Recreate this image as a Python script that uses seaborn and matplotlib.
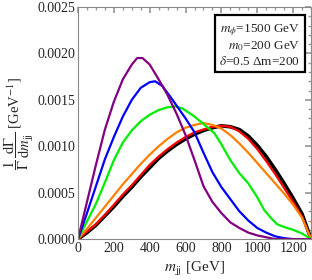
import matplotlib
matplotlib.use("Agg")
import matplotlib.pyplot as plt
import seaborn as sns
import pandas as pd
from matplotlib.ticker import MultipleLocator

# data
purple_m = [0, 50, 100, 150, 200, 250, 300, 330, 360, 400, 450, 500, 550, 600, 650, 700, 750, 800, 850, 900, 950, 1000, 1050, 1100, 1200, 1300]
purple_v = [0, 0.0004, 0.0008, 0.00118, 0.00148, 0.00172, 0.00188, 0.00195, 0.00195, 0.00188, 0.00172, 0.00155, 0.00135, 0.00112, 0.00085, 0.00057, 0.0004, 0.00028, 0.00018, 0.00012, 0.00007, 0.00004, 0.00002, 0.0, 0.0, 0.0]

blue_m = [0, 50, 100, 150, 200, 250, 300, 350, 400, 430, 470, 520, 560, 600, 650, 700, 750, 800, 850, 900, 950, 1000, 1050, 1100, 1150, 1200, 1300]
blue_v = [0, 0.00028, 0.00057, 0.00086, 0.0011, 0.00132, 0.0015, 0.00163, 0.00169, 0.0017, 0.00165, 0.00152, 0.00141, 0.0013, 0.00115, 0.00093, 0.00072, 0.00056, 0.00043, 0.0003, 0.0002, 0.00012, 0.00007, 0.00003, 0.00001, 0.0, 0.0]

green_m = [0, 50, 100, 150, 200, 250, 300, 350, 400, 450, 500, 540, 580, 620, 650, 700, 761, 800, 850, 900, 950, 1000, 1040, 1080, 1111, 1150, 1200, 1250, 1300]
green_v = [0, 0.00019, 0.00038, 0.00061, 0.00085, 0.00104, 0.00117, 0.00127, 0.00134, 0.00139, 0.00142, 0.00143, 0.00141, 0.00136, 0.00132, 0.00124, 0.00114, 0.00102, 0.00085, 0.00071, 0.0006, 0.00045, 0.00031, 0.00022, 0.00016, 0.00013, 0.0001, 0.00006, 0.0]

orange_m = [0, 50, 100, 150, 200, 250, 300, 350, 400, 450, 500, 550, 600, 650, 700, 750, 800, 850, 900, 950, 1000, 1050, 1100, 1150, 1200, 1250, 1300]
orange_v = [0, 0.00011, 0.00023, 0.00035, 0.00047, 0.00059, 0.0007, 0.00081, 0.00091, 0.001, 0.00108, 0.00115, 0.0012, 0.00123, 0.00125, 0.00123, 0.00119, 0.00112, 0.00103, 0.00093, 0.00082, 0.00071, 0.0006, 0.00049, 0.00037, 0.00023, 0.0]

red_m = [0, 50, 100, 150, 200, 250, 300, 350, 400, 450, 500, 550, 600, 650, 700, 750, 800, 850, 900, 950, 1000, 1050, 1100, 1150, 1200, 1250, 1300]
red_v = [0, 0.00008, 0.00016, 0.00026, 0.00037, 0.00048, 0.00058, 0.00069, 0.00080, 0.00089, 0.00097, 0.00104, 0.0011, 0.00115, 0.00118, 0.00121, 0.00122, 0.00121, 0.00116, 0.00108, 0.00097, 0.00084, 0.0007, 0.00055, 0.0004, 0.00024, 0.0]

black_m = [0, 50, 100, 150, 200, 250, 300, 350, 400, 450, 500, 550, 600, 650, 700, 750, 800, 850, 900, 950, 1000, 1050, 1100, 1150, 1200, 1250, 1300]
black_v = [0, 0.00007, 0.00015, 0.00025, 0.00035, 0.00046, 0.00056, 0.00067, 0.00077, 0.00087, 0.00095, 0.00102, 0.00108, 0.00113, 0.00117, 0.0012, 0.00122, 0.00121, 0.00118, 0.00111, 0.00101, 0.00089, 0.00075, 0.0006, 0.00044, 0.00027, 0.0]

series = [("black", black_m, black_v), ("red", red_m, red_v), ("orange", orange_m, orange_v),
          ("green", green_m, green_v), ("blue", blue_m, blue_v), ("purple", purple_m, purple_v)]
colors = {"black": "#000000", "red": "#ff0000", "orange": "#ff8000", "green": "#00ee00",
          "blue": "#0000ff", "purple": "#800080"}
widths = {"black": 2.6, "red": 1.6, "orange": 1.6, "green": 1.6, "blue": 1.6, "purple": 1.6}

rows = []
for name, ms, vs in series:
    for m, v in zip(ms, vs):
        rows.append({"series": name, "m": m, "v": v})
df = pd.DataFrame(rows)

sns.set_theme(style="white")
plt.rcParams["font.family"] = ["Liberation Serif", "DejaVu Serif"]
plt.rcParams["mathtext.fontset"] = "stix"

fig = plt.figure(figsize=(3.12, 2.8), dpi=100)
ax = fig.add_axes([0.25, 0.146, 0.747, 0.829])

for name, _, _ in series:
    sub = df[df.series == name]
    sns.lineplot(data=sub, x="m", y="v", ax=ax, color=colors[name], lw=widths[name],
                 legend=False, estimator=None, sort=False)

ax.set_xlim(0, 1300)
ax.set_ylim(0, 0.0025)
ax.xaxis.set_major_locator(MultipleLocator(200))
ax.xaxis.set_minor_locator(MultipleLocator(50))
ax.yaxis.set_major_locator(MultipleLocator(0.0005))
ax.yaxis.set_minor_locator(MultipleLocator(0.0001))
ax.set_yticks(ax.get_yticks())
ax.set_yticklabels([f"{t:.4f}" for t in ax.get_yticks()])
ax.set_ylim(0, 0.0025)
ax.tick_params(which="both", direction="in", top=True, right=True, labelsize=10,
               color="#999999", pad=2)
ax.tick_params(which="major", length=4)
ax.tick_params(which="minor", length=2)
for s in ax.spines.values():
    s.set_color("#888888")
    s.set_linewidth(0.8)

ax.set_xlabel(r"$m_{\mathrm{jj}}$ [GeV]", fontsize=11, labelpad=4)
ax.set_ylabel(r"$\dfrac{1}{\Gamma}\,\dfrac{\mathrm{d}\Gamma}{\mathrm{d}m_{\mathrm{jj}}}$ [GeV$^{-1}$]",
              fontsize=10.5, labelpad=1)

ax.text(0.955, 0.935, "$m_{\\phi}$=1500 GeV\n$m_0$=200 GeV\n$\\delta$=0.5 Δm=200",
        transform=ax.transAxes, ha="right", va="top", fontsize=9.5, linespacing=1.15,
        bbox=dict(boxstyle="square,pad=0.35", fc="white", ec="black", lw=1.6))

fig.savefig("out.png", dpi=100)
